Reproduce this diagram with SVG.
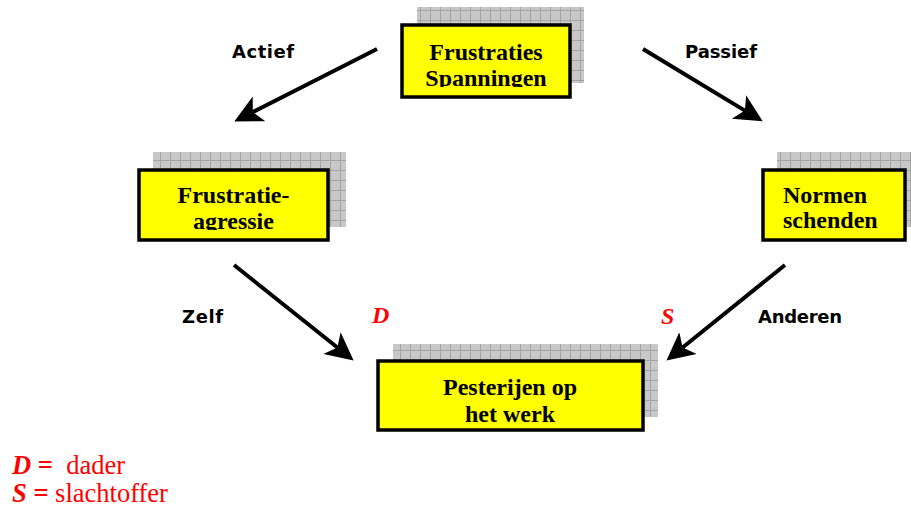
<svg xmlns="http://www.w3.org/2000/svg" width="911" height="512" viewBox="0 0 911 512">
<style>
.box{fill:#ffff00;stroke:#000;stroke-width:3.5}
.shadow{fill:url(#grid)}
.bt{font-family:"Liberation Serif","Times New Roman",serif;font-weight:bold;font-size:24px;fill:#000;text-anchor:middle}
.lbl{font-family:"DejaVu Sans",sans-serif;font-weight:bold;font-size:18px;fill:#000}
.red{font-family:"Liberation Serif","Times New Roman",serif;font-weight:bold;font-style:italic;font-size:24px;fill:#ff0000}
.leg{font-family:"Liberation Serif","Times New Roman",serif;font-size:26.5px;fill:#ff0000}
.legk{font-weight:bold;font-style:italic}
.conn{stroke:#000;stroke-width:4;fill:none;marker-end:url(#ah)}
</style>
<defs>
<pattern id="grid" patternUnits="userSpaceOnUse" width="10" height="10">
<rect width="10" height="10" fill="#c8c8c8"/>
<path d="M0,0.5H10M0.5,0V10" stroke="#a4a4a4" stroke-width="1"/>
</pattern>
<marker id="ah" markerUnits="userSpaceOnUse" markerWidth="30" markerHeight="30" viewBox="0 -13 26 26" refX="6" refY="0" orient="auto">
<path d="M24,0 L0,-12 L6,0 L0,12 Z" fill="#000"/>
</marker>
<clipPath id="c1"><rect x="402" y="25" width="168" height="62"/></clipPath>
<clipPath id="c2"><rect x="139" y="170" width="189" height="60"/></clipPath>
</defs>

<g id="connectors">
<line class="conn" x1="377" y1="49" x2="252.8" y2="112"/>
<line class="conn" x1="643" y1="49" x2="744.9" y2="110.6"/>
<line class="conn" x1="234" y1="265" x2="337.4" y2="347.5"/>
<line class="conn" x1="785" y1="265" x2="682.6" y2="347.5"/>
<text class="lbl" x="232" y="58" textLength="62">Actief</text>
<text class="lbl" x="685" y="58" textLength="72">Passief</text>
<text class="lbl" x="182" y="323" textLength="41">Zelf</text>
<text class="lbl" x="758" y="323" textLength="84">Anderen</text>
<text class="red" x="372" y="323">D</text>
<text class="red" x="661" y="324">S</text>
</g>

<g id="node-frustraties">
<rect class="shadow" x="417" y="7" width="167" height="76"/>
<rect class="box" x="402" y="25" width="168" height="72"/>
<g clip-path="url(#c1)">
<text class="bt" x="486" y="60">Frustraties</text>
<text class="bt" x="486" y="86">Spanningen</text>
</g>
</g>

<g id="node-frustratie-agressie">
<rect class="shadow" x="153" y="152" width="193" height="75"/>
<rect class="box" x="139" y="170" width="189" height="70"/>
<g clip-path="url(#c2)">
<text class="bt" x="233.5" y="203">Frustratie-</text>
<text class="bt" x="233.5" y="229">agressie</text>
</g>
</g>

<g id="node-normen">
<rect class="shadow" x="777" y="152" width="140" height="75"/>
<rect class="box" x="763" y="170" width="142" height="70"/>
<text class="bt" x="783" y="203" style="text-anchor:start">Normen</text>
<text class="bt" x="783" y="228" style="text-anchor:start">schenden</text>
</g>

<g id="node-pesterijen">
<rect class="shadow" x="393" y="344" width="265" height="73"/>
<rect class="box" x="378" y="361" width="265" height="69"/>
<text class="bt" x="510" y="395">Pesterijen op</text>
<text class="bt" x="510" y="422">het werk</text>
</g>

<g id="legend">
<text class="leg" x="12" y="474"><tspan class="legk">D</tspan><tspan font-weight="bold">&#160;=&#160;</tspan>&#160;dader</text>
<text class="leg" x="12" y="502"><tspan class="legk">S</tspan><tspan font-weight="bold">&#160;=</tspan>&#160;slachtoffer</text>
</g>
</svg>
